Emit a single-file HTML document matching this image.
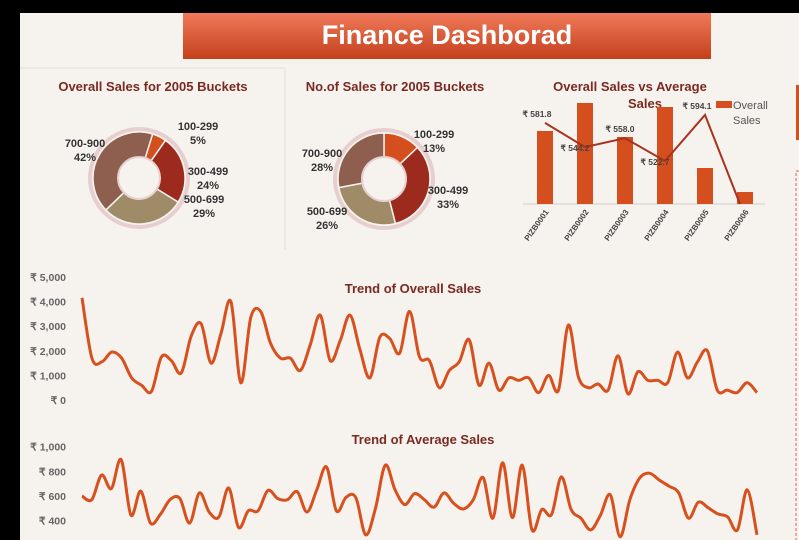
<!DOCTYPE html>
<html><head><meta charset="utf-8">
<style>
html,body{margin:0;padding:0;background:#000;}
#wrap{position:relative;width:799px;height:540px;overflow:hidden;background:#000;font-family:"Liberation Sans",sans-serif;}
svg{position:absolute;left:0;top:0;}
</style></head>
<body>
<div id="wrap">
<svg id="s" width="799" height="540">
  <defs>
    <linearGradient id="tg" x1="0" y1="0" x2="0" y2="1">
      <stop offset="0" stop-color="#f07a5a"/><stop offset="1" stop-color="#c4401c"/>
    </linearGradient>
  </defs>
  <rect x="20" y="13" width="779" height="527" fill="#f6f3ee"/>
  <line x1="20" y1="68" x2="285" y2="68" stroke="#ebe7e1" stroke-width="2"/>
  <line x1="285" y1="68" x2="285" y2="250" stroke="#ebe7e1" stroke-width="2"/>
  <rect x="183" y="13" width="528" height="46" fill="url(#tg)"/>
  <text x="447" y="44" text-anchor="middle" font-size="27" font-weight="bold" fill="#fff">Finance Dashborad</text>
  <rect x="796" y="85" width="3" height="55" fill="#d54f1e"/>
  <rect x="796" y="171" width="10" height="380" fill="none" stroke="#e06050" stroke-dasharray="3,2"/>
  <g font-size="13" font-weight="bold" fill="#7a2a22">
    <text x="153" y="91" text-anchor="middle">Overall Sales for 2005 Buckets</text>
    <text x="395" y="91" text-anchor="middle">No.of Sales for 2005 Buckets</text>
    <text x="630" y="91" text-anchor="middle">Overall Sales vs Average</text>
    <text x="645" y="108" text-anchor="middle">Sales</text>
    <text x="413" y="293" text-anchor="middle">Trend of Overall Sales</text>
    <text x="423" y="444" text-anchor="middle">Trend of Average Sales</text>
  </g>
  <g id="g"></g>
</svg>
</div>
<script>
const pie1Labels=["100-299","300-499","500-699","700-900"];
const pie1Values=[5,24,29,42];
const pie2Labels=["100-299","300-499","500-699","700-900"];
const pie2Values=[13,33,26,28];
const barCats=["PIZB0001","PIZB0002","PIZB0003","PIZB0004","PIZB0005","PIZB0006"];
const barValues=[73,101,67,97,36,12];
const avgValues=[581.8,544.2,558.0,522.7,594.1,456];
const overallTrend=[4150,1700,1550,1950,1700,900,600,350,1750,1600,1100,2600,3100,1500,2700,4000,700,3350,3600,2300,1700,1700,1200,2250,3450,1600,2400,3450,2050,900,2550,2500,1900,3600,1750,1600,500,1200,1550,2450,600,1500,400,900,800,900,300,1000,400,3050,950,500,650,400,1800,250,1150,800,800,700,1950,900,1550,2000,400,400,300,700,300];
const avgTrend=[600,570,770,660,895,445,640,380,450,570,580,380,625,470,430,665,345,480,480,645,580,570,635,470,650,835,480,590,585,285,500,850,650,530,620,570,510,625,540,495,570,750,420,870,425,850,325,490,450,755,490,420,325,445,610,270,570,745,785,730,680,625,420,550,505,455,430,325,650,285];
const yTicksOverall=["₹ 5,000","₹ 4,000","₹ 3,000","₹ 2,000","₹ 1,000","₹ 0"];
const yTicksAvg=["₹ 1,000","₹ 800","₹ 600","₹ 400"];

const NS="http://www.w3.org/2000/svg";
const g=document.getElementById('g');
function mk(t,a,p){const e=document.createElementNS(NS,t);for(const k in a)e.setAttribute(k,a[k]);(p||g).appendChild(e);return e;}
const colors=["#d54f1e","#9c2b1d","#a08b68","#8e5f4f"];
function donut(cx,cy,R,r,vals,start,name){
  const tot=vals.reduce((a,b)=>a+b,0);let a0=start;
  mk('circle',{cx,cy,r:R+3,fill:'none',stroke:'#e7cfcf','stroke-width':4});
  vals.forEach((v,i)=>{
    const a1=a0+v/tot*2*Math.PI;
    const p=(a,rr)=>[cx+rr*Math.sin(a),cy-rr*Math.cos(a)];
    const [x1,y1]=p(a0,R),[x2,y2]=p(a1,R),[x3,y3]=p(a1,r),[x4,y4]=p(a0,r);
    const lg=(a1-a0)>Math.PI?1:0;
    const e=mk('path',{d:`M${x1},${y1}A${R},${R} 0 ${lg} 1 ${x2},${y2}L${x3},${y3}A${r},${r} 0 ${lg} 0 ${x4},${y4}Z`,fill:colors[i],stroke:'#f6f3ee','stroke-width':1.5});
    
    
    a0=a1;
  });
  mk('circle',{cx,cy,r:r,fill:'none',stroke:'#e7cfcf','stroke-width':2});
}
donut(139,178,46,21,pie1Values,0.3,'overall-donut');
donut(384,179,46,22,pie2Values,0,'count-donut');
function lbl(x,y,t,n){const e=mk('text',{x,y,'font-size':11,'font-weight':'bold',fill:'#333','text-anchor':'middle'});e.textContent=t;

}
const l1=[[198,130],[208,175],[204,203],[85,147]];
pie1Labels.forEach((t,i)=>{lbl(l1[i][0],l1[i][1],t,'overall-donut-label');lbl(l1[i][0],l1[i][1]+14,pie1Values[i]+'%','overall-donut-pct');});
const l2=[[434,138],[448,194],[327,215],[322,157]];
pie2Labels.forEach((t,i)=>{lbl(l2[i][0],l2[i][1],t,'count-donut-label');lbl(l2[i][0],l2[i][1]+14,pie2Values[i]+'%','count-donut-pct');});

// bar chart
const base=204,bx0=545,bstep=40,bw=16;
const byS=v=>base-v*1.0;
const lyS=v=>base-(v-456)*0.645;
mk('line',{x1:523,y1:base,x2:765,y2:base,stroke:'#ccc','stroke-width':1});
barCats.forEach((c,i)=>{
  const x=bx0+i*bstep;
  const r=mk('rect',{x:x-bw/2,y:byS(barValues[i]),width:bw,height:base-byS(barValues[i]),fill:'#d54f1e'});
  
  
  const t=mk('text',{x:0,y:0,'font-size':8,'font-weight':'bold',fill:'#444','text-anchor':'end',transform:`translate(${x+4},${base+8}) rotate(-55)`});
  t.textContent=c;
  
  
});
let d='';avgValues.forEach((v,i)=>{d+=(i?'L':'M')+(bx0+i*bstep-(i==5?5:0))+','+lyS(v);});
const ln=mk('path',{d,fill:'none',stroke:'#a8321f','stroke-width':2});


const offs=[[-8,-6],[-10,4],[-5,-6],[-10,4],[-8,-6]];
avgValues.slice(0,5).forEach((v,i)=>{const t=mk('text',{x:bx0+i*bstep+offs[i][0],y:lyS(v)+offs[i][1],'font-size':8.5,'font-weight':'bold',fill:'#444','text-anchor':'middle'});t.textContent='₹ '+v.toFixed(1);

});
mk('rect',{x:716,y:101,width:16,height:7,fill:'#d54f1e'});
const lt=mk('text',{x:733,y:109,'font-size':11,fill:'#555'});lt.textContent='Overall';


const lt2=mk('text',{x:733,y:124,'font-size':11,fill:'#555'});lt2.textContent='Sales';



// trends
function smooth(pts){let s='M'+pts[0][0]+','+pts[0][1];
  for(let i=0;i<pts.length-1;i++){const p0=pts[i-1]||pts[i],p1=pts[i],p2=pts[i+1],p3=pts[i+2]||p2;
    s+=`C${p1[0]+(p2[0]-p0[0])/6},${p1[1]+(p2[1]-p0[1])/6} ${p2[0]-(p3[0]-p1[0])/6},${p2[1]-(p3[1]-p1[1])/6} ${p2[0]},${p2[1]}`;}
  return s;}
function trend(vals,ys,name,maxY){
  const x0=82,x1=757;
  const pts=vals.map((v,i)=>[x0+i*(x1-x0)/(vals.length-1),Math.min(ys(v),maxY)]);
  const p=mk('path',{d:smooth(pts),fill:'none',stroke:'#d8501e','stroke-width':3,'stroke-linejoin':'round'});
  
  
}
const yO=v=>400-v*123/5000;
const yA=v=>570-v*74/600;
trend(overallTrend,yO,'overall-trend-line',999);
trend(avgTrend,yA,'average-trend-line',999);
yTicksOverall.forEach((t,i)=>{const e=mk('text',{x:66,y:yO(5000-i*1000)+4,'font-size':10.5,'font-weight':'bold',fill:'#666','text-anchor':'end'});e.textContent=t;

});
yTicksAvg.forEach((t,i)=>{const e=mk('text',{x:66,y:yA(1000-i*200)+4,'font-size':10.5,'font-weight':'bold',fill:'#666','text-anchor':'end'});e.textContent=t;

});
</script>
</body></html>
